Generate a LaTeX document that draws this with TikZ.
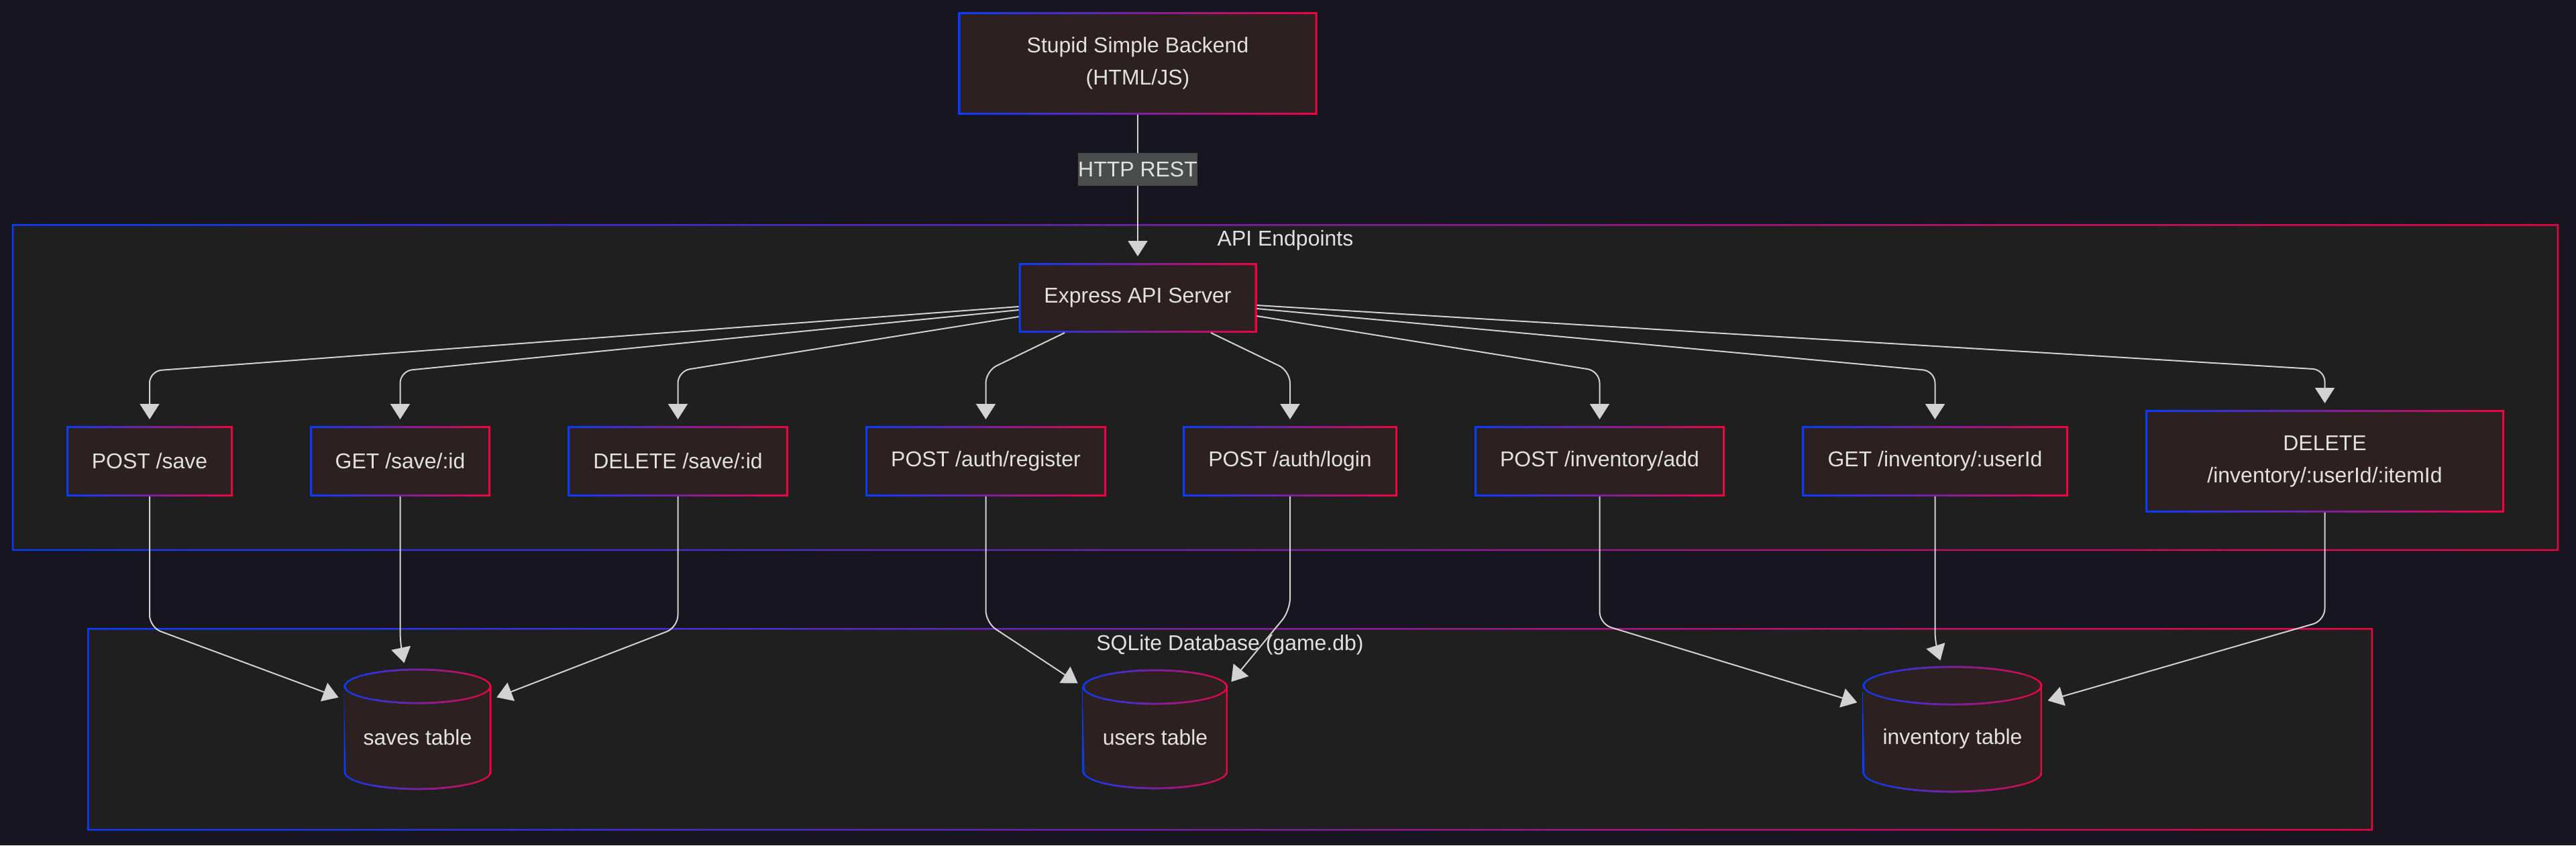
\documentclass[tikz,border=0pt]{standalone}
\usepackage{fontspec}
\setmainfont{Liberation Sans}
\usetikzlibrary{arrows.meta}
\definecolor{bgcol}{RGB}{22,21,32}
\definecolor{framefill}{RGB}{31,31,31}
\definecolor{nodefill}{RGB}{44,32,32}
\definecolor{bordblue}{RGB}{10,60,250}
\definecolor{bordred}{RGB}{235,5,65}
\definecolor{edgecol}{RGB}{210,210,210}
\definecolor{txtcol}{RGB}{225,225,225}
\definecolor{lblfill}{RGB}{74,75,75}
\newcommand*\diafont{\fontsize{9.1}{13.7}\selectfont}
\newcommand*\bordw{0.03cm}
% gradient outline of a rectangular node: #1 node, #2 line width
\newcommand*\gradborder[2]{%
  \shade[left color=bordblue,right color=bordred,even odd rule]
    (#1.south west) rectangle (#1.north east)
    ([shift={(#2,#2)}]#1.south west) rectangle ([shift={(-#2,-#2)}]#1.north east);}
% database table: #1 name, #2 cx, #3 top y, #4 bottom y, #5 rx, #6 ry, #7 text
\newcommand*\dbtable[7]{%
  \fill[nodefill] ({#2-#5},{#3-#6}) arc[start angle=180,end angle=0,x radius=#5,y radius=#6]
    -- ({#2+#5},{#4+#6}) arc[start angle=0,end angle=-180,x radius=#5,y radius=#6] -- cycle;
  \shade[left color=bordblue,right color=bordred,even odd rule]
    (#2,{#3-#6}) ellipse[x radius={#5+0.015},y radius={#6+0.015}]
    (#2,{#3-#6}) ellipse[x radius={#5-0.015},y radius={#6-0.015}];
  \shade[left color=bordblue,right color=bordred]
    ({#2-#5-0.015},{#3-#6}) -- ({#2-#5-0.015},{#4+#6})
    arc[start angle=180,end angle=360,x radius={#5+0.015},y radius={#6+0.015}]
    -- ({#2+#5+0.015},{#3-#6}) -- ({#2+#5-0.015},{#3-#6}) -- ({#2+#5-0.015},{#4+#6})
    arc[start angle=0,end angle=-180,x radius={#5-0.015},y radius={#6-0.015}] -- cycle;
  \node[tablenode,minimum width={2*#5*1cm},minimum height={(#3-#6-#4)*1cm}]
    (#1) at (#2,{(#3-#6+#4)/2}) {#7};}
\tikzset{
    box/.style        = {fill=nodefill, text=txtcol, font=\diafont, align=center,
                        inner sep=0pt, outer sep=0pt, minimum height=1.05cm},
    frame/.style      = {fill=framefill, inner sep=0pt, outer sep=0pt},
    framelabel/.style = {text=txtcol, font=\diafont, inner sep=0pt},
    tablenode/.style  = {text=txtcol, font=\diafont, inner sep=0pt, outer sep=0pt},
    edge/.style       = {draw=edgecol, line width=0.02cm, rounded corners=0.18cm,
                        shorten >=0.1cm, -{Triangle[length=0.23cm,width=0.29cm]}},
    edgelabel/.style  = {fill=lblfill, text=txtcol, font=\diafont, sharp corners,
                        inner xsep=0pt, inner ysep=0pt, minimum height=0.49cm},
  }
\begin{document}
\begin{tikzpicture}
    \useasboundingbox (0,0) rectangle (38.4,-12.6);
    \fill[bgcol] (0,0) rectangle (38.4,-12.6);

    % subgraph frames
    \node[frame, minimum width=37.96cm, minimum height=4.87cm] (apiframe) at (19.16,-5.775) {};
    \node[frame, minimum width=34.07cm, minimum height=3.02cm] (dbframe) at (18.335,-10.87) {};
    \gradborder{apiframe}{0.025cm}
    \gradborder{dbframe}{0.025cm}
    \node[framelabel] (apilabel) at ([yshift=-0.24cm]apiframe.north) {API Endpoints};
    \node[framelabel] (dblabel) at ([yshift=-0.25cm]dbframe.north) {SQLite Database (game.db)};

    % client and server
    \node[box, minimum width=5.35cm, minimum height=1.53cm] (front) at (16.96,-0.945)
        {Stupid Simple Backend\\(HTML/JS)};
    \node[box, minimum width=3.55cm, minimum height=1.04cm] (express) at (16.96,-4.44) {Express API Server};

    % endpoints
    \node[box, minimum width=2.48cm] (savepost) at (2.23,-6.875)   {POST /save};
    \node[box, minimum width=2.69cm] (getsave)  at (5.965,-6.875)  {GET /save/:id};
    \node[box, minimum width=3.29cm] (delsave)  at (10.105,-6.875) {DELETE /save/:id};
    \node[box, minimum width=3.59cm] (register) at (14.695,-6.875) {POST /auth/register};
    \node[box, minimum width=3.20cm] (login)    at (19.23,-6.875)  {POST /auth/login};
    \node[box, minimum width=3.73cm] (invadd)   at (23.845,-6.875) {POST /inventory/add};
    \node[box, minimum width=3.97cm] (invget)   at (28.845,-6.875) {GET /inventory/:userId};
    \node[box, minimum width=5.35cm, minimum height=1.53cm] (invdel) at (34.655,-6.875)
        {DELETE\\/inventory/:userId/:itemId};
    \foreach \n in {front,express,savepost,getsave,delsave,register,login,invadd,invget,invdel}
        \gradborder{\n}{\bordw};

    % tables
    \dbtable{saves}{6.225}{-9.98}{-11.76}{1.085}{0.25}{saves table}
    \dbtable{users}{17.22}{-9.99}{-11.75}{1.07}{0.25}{users table}
    \dbtable{inventory}{29.105}{-9.94}{-11.80}{1.325}{0.28}{inventory table}

    % client to server
    \draw[edge] (front.south) -- (express.north) node[edgelabel, pos=0.37] (rest) {HTTP REST};

    % server to endpoints
    \foreach \n/\s in {savepost/-0.13,getsave/-0.18,delsave/-0.28}
        \draw[edge] ([yshift=\s cm]express.west) -- ([yshift=0.82cm]\n.north) -- (\n.north);
    \foreach \n/\s in {register/-1.09,login/1.09}
        \draw[edge] ([xshift=\s cm]express.south) -- ([yshift=0.82cm]\n.north) -- (\n.north);
    \foreach \n/\s/\c in {invadd/-0.27/0.82,invget/-0.16/0.82,invdel/-0.11/0.6}
        \draw[edge] ([yshift=\s cm]express.east) -- ([yshift=\c cm]\n.north) -- (\n.north);

    % endpoints to tables
    \draw[edge] (savepost.south) -- ([yshift=-1.95cm]savepost.south) -- ([yshift=-0.2cm]saves.north west);
    \draw[edge] (getsave.south) -- ([yshift=-2.2cm]getsave.south) -- ([xshift=-0.18cm,yshift=0.25cm]saves.north);
    \draw[edge] (delsave.south) -- ([yshift=-1.95cm]delsave.south) -- ([yshift=-0.2cm]saves.north east);
    \draw[edge] (register.south) -- ([yshift=-1.88cm]register.south) -- (users.north west);
    \draw[edge] (login.south) -- ([yshift=-1.7cm]login.south) -- (users.north east);
    \draw[edge] (invadd.south) -- ([yshift=-1.9cm]invadd.south) -- ([yshift=-0.28cm]inventory.north west);
    \draw[edge] (invget.south) -- ([yshift=-2.2cm]invget.south) -- ([xshift=-0.15cm,yshift=0.28cm]inventory.north);
    \draw[edge] (invdel.south) -- ([yshift=-1.61cm]invdel.south) -- ([yshift=-0.25cm]inventory.north east);
\end{tikzpicture}
\end{document}
